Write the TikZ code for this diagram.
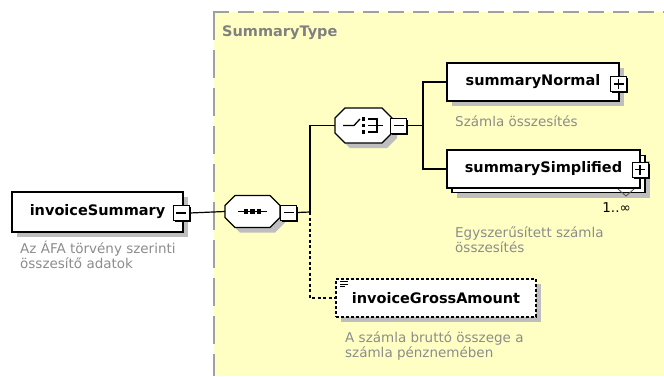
\documentclass[tikz,border=0pt]{standalone}
\usepackage{fontspec}
\setmainfont{DejaVu Sans}
\usetikzlibrary{shadows}
\definecolor{bgyellow}{RGB}{255,255,196}
\definecolor{descgray}{RGB}{140,140,140}
\definecolor{framegray}{RGB}{160,160,160}
\definecolor{titlegray}{RGB}{128,128,128}
\definecolor{shadowgray}{RGB}{190,190,190}
\tikzset{
  gshadow/.style={drop shadow={shadow xshift=5pt, shadow yshift=-5pt, fill=shadowgray, opacity=1}},
  elbox/.style={draw=black, line width=1.2pt, fill=white, inner sep=0pt,
    font=\fontsize{14.5}{17}\selectfont\bfseries},
  pmbox/.style={draw=black, line width=1pt, fill=white, minimum width=16pt,
    minimum height=15pt, inner sep=0pt,
    drop shadow={shadow xshift=1.8pt, shadow yshift=-1.8pt, fill=black, opacity=1}},
  compnode/.style={draw=none, inner sep=0pt},
  octo/.style={line width=1.2pt, draw=black, fill=white},
  desc/.style={anchor=north west, align=left, text=descgray, inner sep=0pt,
    font=\fontsize{13.5}{15}\selectfont},
  conn/.style={line width=1.2pt, draw=black},
  sym/.style={line width=1.3pt, draw=black},
  pmsign/.style={line width=1.2pt, draw=black},
}
% cx, cy, half width, half height, chamfer
\newcommand\octagonbox[5]{%
  \fill[shadowgray] (#1-#3+#5+5,#2-#4+5) -- (#1+#3-#5+5,#2-#4+5) -- (#1+#3+5,#2-#4+#5+5)
    -- (#1+#3+5,#2+#4-#5+5) -- (#1+#3-#5+5,#2+#4+5) -- (#1-#3+#5+5,#2+#4+5)
    -- (#1-#3+5,#2+#4-#5+5) -- (#1-#3+5,#2-#4+#5+5) -- cycle;
  \path[octo] (#1-#3+#5,#2-#4) -- (#1+#3-#5,#2-#4) -- (#1+#3,#2-#4+#5)
    -- (#1+#3,#2+#4-#5) -- (#1+#3-#5,#2+#4) -- (#1-#3+#5,#2+#4)
    -- (#1-#3,#2+#4-#5) -- (#1-#3,#2-#4+#5) -- cycle;}
\begin{document}
\begin{tikzpicture}[x=1pt, y=-1pt]
\useasboundingbox (0,0) rectangle (664,376);
% type area
\fill[bgyellow] (214,12) rectangle (664,376);
\draw[framegray, line width=2pt, dash pattern=on 16pt off 9pt] (213,12) -- (664,12);
\draw[framegray, line width=2pt, dash pattern=on 28pt off 10pt] (214,12) -- (214,376);
\node[anchor=west, inner sep=0pt, text=titlegray, font=\fontsize{14.5}{17}\selectfont\bfseries] (stype) at (222,33) {SummaryType};

% invoiceSummary
\node[elbox, gshadow, minimum width=171pt, minimum height=40pt] (inv) at (97.5,212) {invoiceSummary};
\node[pmbox] (invm) at (181,213) {};
\draw[pmsign] ([xshift=-5pt]invm.center) -- ([xshift=5pt]invm.center);
\node[desc] (invd) at (20,241) {Az ÁFA törvény szerinti\\összesítő adatok};

% sequence compositor
\octagonbox{252.5}{211.5}{27.5}{16}{10}
\node[compnode, minimum width=55pt, minimum height=32pt] (seq) at (252.5,211.5) {};
\draw[sym] (238,211.5) -- (267,211.5);
\foreach \xx in {246,252.5,259} \fill (\xx-2.4,209.1) rectangle (\xx+2.4,213.9);
\node[pmbox] (seqm) at (288.5,212.5) {};
\draw[pmsign] ([xshift=-5pt]seqm.center) -- ([xshift=5pt]seqm.center);

% choice compositor
\octagonbox{363.5}{125.5}{28.5}{17.5}{10}
\node[compnode, minimum width=57pt, minimum height=35pt] (cho) at (363.5,125.5) {};
\draw[sym] (343,125.5) -- (354,125.5) -- (360,119);
\foreach \yy in {119,125.5,132} \fill (361.5,\yy-1.7) rectangle (365,\yy+1.7);
\draw[sym] (368,119) -- (377,119) -- (377,132) -- (368,132);
\draw[sym] (368,125.5) -- (383,125.5);
\node[pmbox] (chom) at (398.5,125.5) {};
\draw[pmsign] ([xshift=-5pt]chom.center) -- ([xshift=5pt]chom.center);

% summaryNormal
\node[elbox, gshadow, minimum width=172pt, minimum height=38pt] (sn) at (533,82) {summaryNormal};
\node[pmbox] (snp) at (618.5,84) {};
\draw[pmsign] ([xshift=-5pt]snp.center) -- ([xshift=5pt]snp.center)
  ([yshift=-5pt]snp.center) -- ([yshift=5pt]snp.center);
\node[desc] (snd) at (455,115) {Számla összesítés};

% summarySimplified (multiple)
\node[elbox, gshadow, minimum width=193pt, minimum height=37pt] (ssb) at (548.5,174) {};
\node[elbox, minimum width=193pt, minimum height=38pt] (ss) at (543.5,169) {summarySimplified};
\draw[line width=0.8pt, draw=black!70] (618,189) -- (626,196) -- (634,189);
\node[pmbox] (ssp) at (640,169.5) {};
\draw[pmsign] ([xshift=-5pt]ssp.center) -- ([xshift=5pt]ssp.center)
  ([yshift=-5pt]ssp.center) -- ([yshift=5pt]ssp.center);
\node[anchor=north east, inner sep=0pt, font=\fontsize{13.5}{15}\selectfont] (ssm) at (631,202) {1..∞};
\node[desc] (ssd) at (455,226) {Egyszerűsített számla\\összesítés};

% invoiceGrossAmount
\node[elbox, gshadow, dash pattern=on 3pt off 2pt, minimum width=200pt, minimum height=38pt] (ga) at (436,298) {invoiceGrossAmount};
\draw[line width=0.8pt] (340,281.5) -- (348,281.5) (340,284) -- (348,284) (340,286.5) -- (345,286.5);
\node[desc] (gad) at (345,331) {A számla bruttó összege a\\számla pénznemében};

% connectors
\coordinate (j1) at (310,212);
\coordinate (j2) at (423,125.5);
\draw[conn] (invm.east) -- (seq.west);
\draw[conn] (seqm.east) -- (j1);
\draw[conn] (j1) |- (cho.west);
\draw[conn, dash pattern=on 3pt off 2.5pt] (j1) |- (ga.west);
\draw[conn] (chom.east) -- (j2);
\draw[conn] (j2) |- (sn.west);
\draw[conn] (j2) |- (ss.west);
\end{tikzpicture}
\end{document}
